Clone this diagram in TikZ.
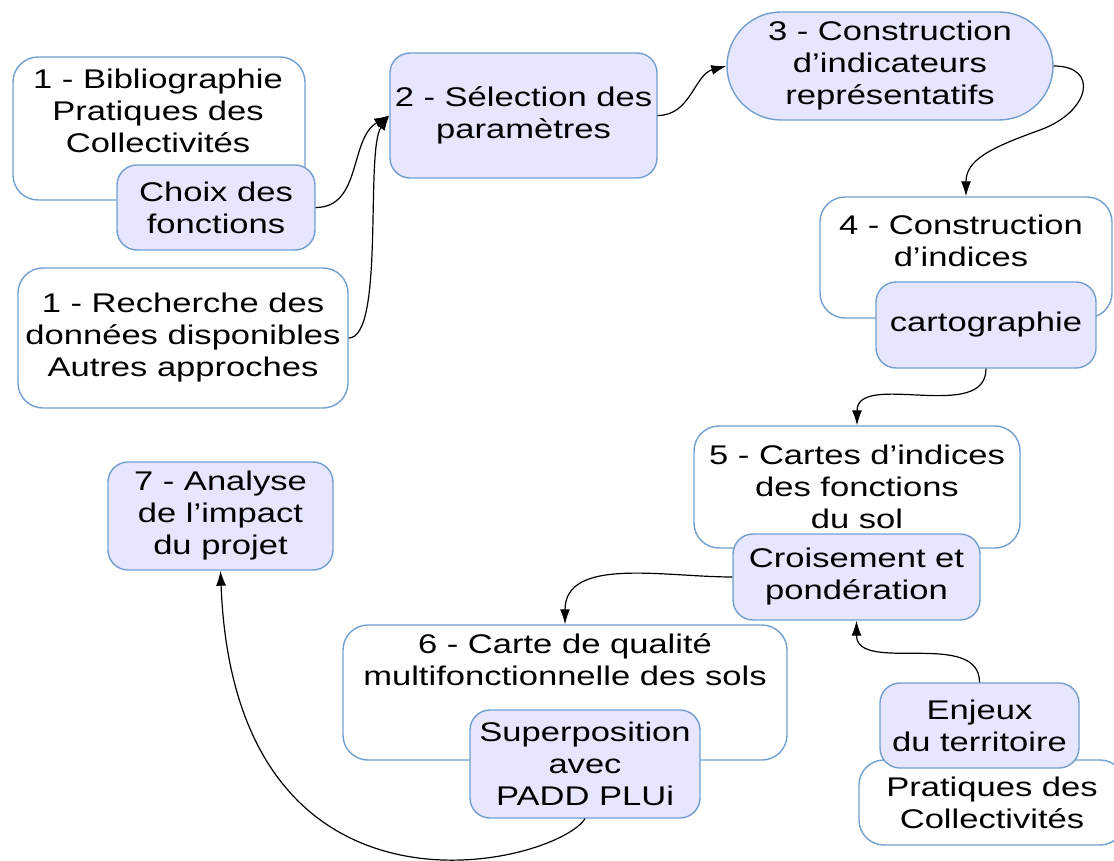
\documentclass[tikz,border=0pt]{standalone}
\usepackage{fontspec}
\setmainfont{Liberation Sans}[FakeStretch=1.28]
\usetikzlibrary{arrows.meta}
\definecolor{borderBlue}{HTML}{729FCF}
\definecolor{fillLavender}{HTML}{E6E6FF}

\begin{document}
\begin{tikzpicture}[x=1pt, y=1pt, font=\fontsize{27}{32}\selectfont]
	\tikzstyle{outerStyle} = [draw=borderBlue, line width=1.4pt, fill=white, rounded corners=25pt, inner sep=0pt, align=center]
	\tikzstyle{innerStyle} = [draw=borderBlue, line width=1.4pt, fill=fillLavender, rounded corners=20pt, inner sep=0pt, align=center]
	\tikzstyle{textStyle} = [inner sep=0pt, align=center]
	\tikzstyle{linkStyle} = [line width=1.2pt, -{Latex[length=15pt, width=10pt]}]
	\clip (0,0) rectangle (1114,-861);
	% step 1
	\node[outerStyle, minimum width=292pt, minimum height=143pt] (biblio) at (159,-128.5) {};
	\node[textStyle] (biblioText) at (158,-111) {1 - Bibliographie\\Pratiques des\\Collectivités};
	\node[innerStyle, minimum width=198pt, minimum height=85pt] (choix) at (216,-207.5) {Choix des\\fonctions};
	\node[outerStyle, minimum width=330pt, minimum height=140pt] (recherche) at (183,-338) {1 - Recherche des\\données disponibles\\Autres approches};
	% steps 2 and 3
	\node[innerStyle, minimum width=267pt, minimum height=125pt] (selection) at (523.5,-115.5) {2 - Sélection des\\paramètres};
	\node[innerStyle, rounded corners=54pt, minimum width=326pt, minimum height=108pt] (indicateurs) at (890,-66) {3 - Construction\\d’indicateurs\\représentatifs};
	% step 4
	\node[outerStyle, minimum width=292pt, minimum height=121pt] (indices) at (966,-257.5) {};
	\node[textStyle] (indicesText) at (961,-241) {4 - Construction\\d’indices};
	\node[innerStyle, minimum width=220pt, minimum height=86pt] (cartographie) at (986,-325) {cartographie};
	% step 5
	\node[outerStyle, minimum width=326pt, minimum height=122pt] (cartes) at (857,-487) {5 - Cartes d’indices\\des fonctions\\du sol};
	\node[innerStyle, minimum width=247pt, minimum height=86pt] (croisement) at (856.5,-577) {Croisement et\\pondération};
	\node[outerStyle, minimum width=266pt, minimum height=85pt] (pratiques) at (992,-802.5) {Pratiques des\\Collectivités};
	\node[innerStyle, minimum width=199pt, minimum height=85pt] (enjeux) at (979.5,-725.5) {Enjeux\\du territoire};
	% step 6
	\node[outerStyle, minimum width=444pt, minimum height=135pt] (qualite) at (565,-692.5) {};
	\node[textStyle] (qualiteText) at (565,-659.5) {6 - Carte de qualité\\multifonctionnelle des sols};
	\node[innerStyle, minimum width=230pt, minimum height=108pt] (superposition) at (585,-764) {Superposition\\avec\\PADD PLUi};
	% step 7
	\node[innerStyle, minimum width=225pt, minimum height=108pt] (analyse) at (220.5,-516) {7 - Analyse\\de l’impact\\du projet};
	% links
	\draw[linkStyle] (choix.east) to[out=0, in=210] (selection.west);
	\draw[linkStyle] (recherche.east) .. controls (385,-338) and (365,-150) .. (selection.west);
	\draw[linkStyle] (selection.east) to[out=0, in=195] (indicateurs.west);
	\draw[linkStyle] (indicateurs.east) .. controls (1100,-66) and (1090,-112) .. (1040,-130)
		.. controls (990,-148) and (966,-160) .. (indices.north);
	\draw[linkStyle] (cartographie.south) to[out=-90, in=90] (cartes.north);
	\draw[linkStyle] (croisement.west) to[out=180, in=90] (qualite.north);
	\draw[linkStyle] (enjeux.north) to[out=90, in=-90] (croisement.south);
	\draw[linkStyle] (superposition.south) .. controls (555,-865) and (235,-945) .. (analyse.south);
\end{tikzpicture}
\end{document}
